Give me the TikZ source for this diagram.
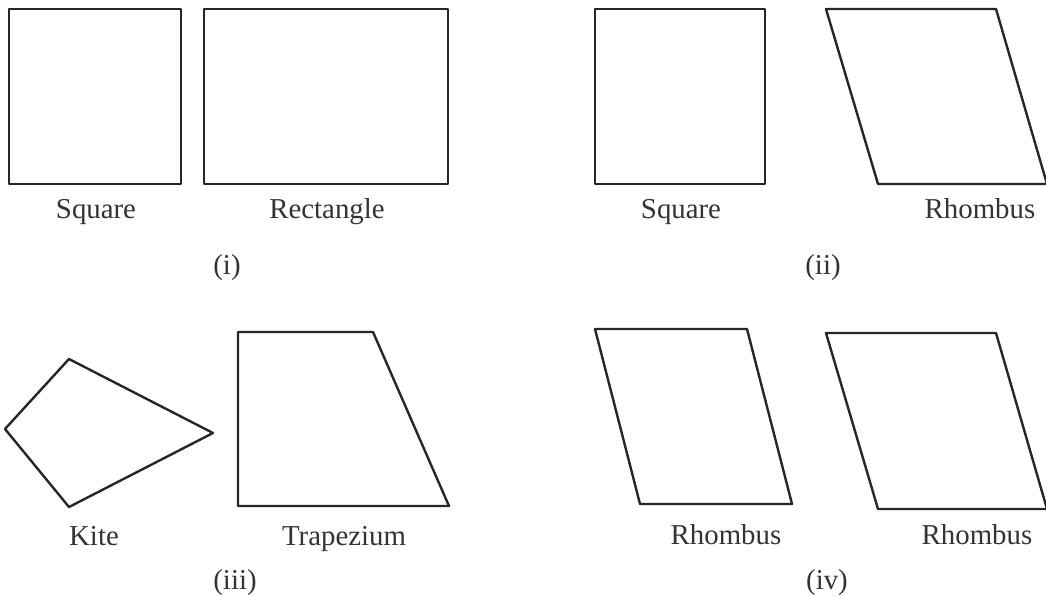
\documentclass[tikz,border=0pt]{standalone}
\usepackage{fontspec}
\setmainfont{Liberation Serif}
\begin{document}
\begin{tikzpicture}[x=0.025cm,y=-0.025cm,
  quad/.style={draw=black!85,line width=1.7pt,line join=round},
  lbl/.style={anchor=base,text=black!80,font=\fontsize{20.5}{24}\selectfont,inner sep=0pt}]
\useasboundingbox (0,0) rectangle (1046,595);

% (i)
\draw[quad] (9,9) rectangle (181,184);
\draw[quad] (204,9) rectangle (448,184);
\node[lbl] (sqA) at (96,218) {Square};
\node[lbl] (rect) at (327,218) {Rectangle};
\node[lbl] (capA) at (227,274) {(i)};

% (ii)
\draw[quad] (595,9) rectangle (765,184);
\draw[quad] (826,9) -- (996,9) -- (1047,184) -- (878,184) -- cycle;
\node[lbl] (sqB) at (681,218) {Square};
\node[lbl] (rhA) at (980,218) {Rhombus};
\node[lbl] (capB) at (823,274) {(ii)};

% (iii)
\draw[quad] (69,359) -- (213,433) -- (69,507) -- (5,429) -- cycle;
\draw[quad] (238,332) -- (373,332) -- (449,506) -- (238,506) -- cycle;
\node[lbl] (kite) at (94,545) {Kite};
\node[lbl] (trap) at (344,545) {Trapezium};
\node[lbl] (capC) at (235,589) {(iii)};

% (iv)
\draw[quad] (595,329) -- (747,329) -- (792,504) -- (640,504) -- cycle;
\draw[quad] (826,333) -- (996,333) -- (1047,509) -- (878,509) -- cycle;
\node[lbl] (rhB) at (726,544) {Rhombus};
\node[lbl] (rhC) at (977,544) {Rhombus};
\node[lbl] (capD) at (827,589) {(iv)};
\end{tikzpicture}
\end{document}
